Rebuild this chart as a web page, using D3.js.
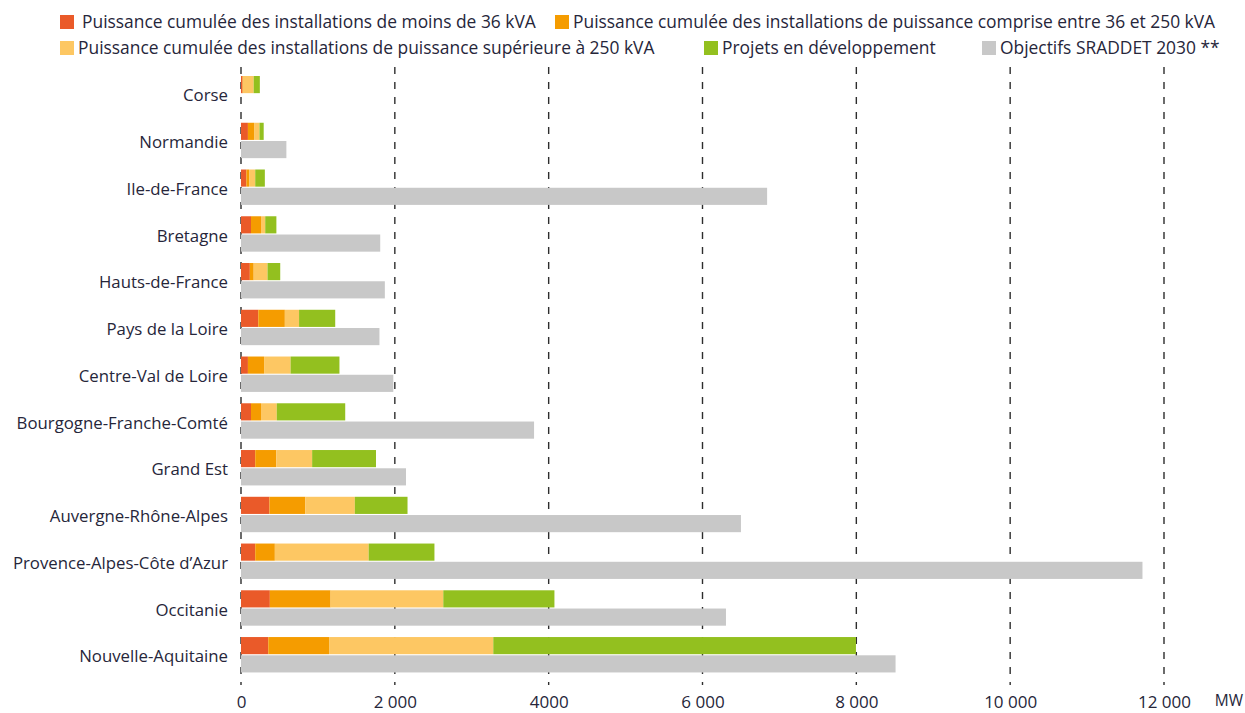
<!DOCTYPE html>
<html>
<head>
<meta charset="utf-8">
<script src="https://cdn.jsdelivr.net/npm/d3@7"></script>
<style>
  html, body { margin: 0; padding: 0; background: #fff; }
  svg { display: block; }
  text { font-family: "Open Sans", "Noto Sans", sans-serif; fill: #26263a; }
</style>
</head>
<body>
<svg id="chart" width="1245" height="713"></svg>
<script>
const categories = ["Corse", "Normandie", "Ile-de-France", "Bretagne", "Hauts-de-France",
  "Pays de la Loire", "Centre-Val de Loire", "Bourgogne-Franche-Comté", "Grand Est",
  "Auvergne-Rhône-Alpes", "Provence-Alpes-Côte d’Azur", "Occitanie", "Nouvelle-Aquitaine"];

const moins36   = [20, 90, 70, 130, 115, 225, 90, 130, 185, 370, 185, 375, 355];
const entre36   = [5, 80, 35, 130, 50, 345, 210, 130, 275, 465, 255, 790, 790];
const sup250    = [140, 70, 80, 55, 180, 185, 345, 205, 465, 645, 1220, 1465, 2135];
const projets   = [80, 55, 125, 145, 165, 470, 635, 890, 830, 685, 855, 1445, 4715];
const objectifs = [0, 590, 6840, 1810, 1870, 1800, 1980, 3810, 2145, 6500, 11720, 6305, 8510];

const seriesNames = [
  "Puissance cumulée des installations de moins de 36 kVA",
  "Puissance cumulée des installations de puissance comprise entre 36 et 250 kVA",
  "Puissance cumulée des installations de puissance supérieure à 250 kVA",
  "Projets en développement",
  "Objectifs SRADDET 2030 **"
];
const seriesColors = ["#EA5A29", "#F59C00", "#FDC763", "#93C01F", "#C8C8C8"];

const tickValues = [0, 2000, 4000, 6000, 8000, 10000, 12000];
const tickLabels = ["0", "2 000", "4000", "6 000", "8 000", "10 000", "12 000"];
const unitLabel = "MW";

const svg = d3.select("#chart");

const x = d3.scaleLinear().domain([0, 12000]).range([241, 1164]);
const y = d3.scaleBand().domain(categories).range([71.6, 679.4]).paddingInner(0).paddingOuter(0);
const sub = d3.scaleBand().domain(["stack", "target"]).range([4.4, 39.8]).paddingInner(0.06);

// gridlines
svg.append("g").selectAll("line").data(tickValues).join("line")
  .attr("x1", d => x(d)).attr("x2", d => x(d))
  .attr("y1", 67).attr("y2", 685)
  .attr("stroke", "#2d2d2d").attr("stroke-width", 1.4)
  .attr("stroke-dasharray", "7,8");

// stacked data
const keys = ["m36", "e36", "s250", "proj"];
const rows = categories.map((c, i) => ({ cat: c, m36: moins36[i], e36: entre36[i], s250: sup250[i], proj: projets[i], obj: objectifs[i] }));
const stack = d3.stack().keys(keys)(rows);

const gStack = svg.append("g");
stack.forEach((layer, k) => {
  gStack.append("g").attr("fill", seriesColors[k])
    .selectAll("rect").data(layer).join("rect")
    .attr("x", d => x(d[0]))
    .attr("width", d => Math.max(0, x(d[1]) - x(d[0])))
    .attr("y", d => y(d.data.cat) + sub("stack"))
    .attr("height", sub.bandwidth());
});

svg.append("g").attr("fill", seriesColors[4])
  .selectAll("rect").data(rows.filter(d => d.obj > 0)).join("rect")
  .attr("x", x(0))
  .attr("width", d => x(d.obj) - x(0))
  .attr("y", d => y(d.cat) + sub("target"))
  .attr("height", sub.bandwidth());

// category labels
svg.append("g").selectAll("text").data(categories).join("text")
  .attr("x", 228)
  .attr("y", d => y(d) + y.bandwidth() / 2 + 0.5)
  .attr("dy", "0.35em")
  .attr("text-anchor", "end")
  .attr("font-size", 16.8)
  .text(d => d);

// x axis labels
const xAxis = d3.axisBottom(x).tickValues(tickValues).tickSize(0)
  .tickFormat((d, i) => tickLabels[i]);
const gx = svg.append("g").attr("transform", "translate(0,693)").call(xAxis);
gx.select(".domain").remove();
gx.selectAll("text").attr("font-size", 17).attr("fill", "#26263a")
  .style("font-family", "'Open Sans', sans-serif");

svg.append("text").attr("x", 1229).attr("y", 701).attr("dy", "0.35em")
  .attr("text-anchor", "middle").attr("font-size", 15.5).text(unitLabel);

// legend
const legendPos = [
  { sx: 60, sy: 15, tx: 82, ty: 22 },
  { sx: 555, sy: 15, tx: 573, ty: 22 },
  { sx: 60, sy: 41, tx: 78, ty: 48 },
  { sx: 704, sy: 41, tx: 722, ty: 48 },
  { sx: 982, sy: 41, tx: 1000, ty: 48 }
];
const lg = svg.append("g");
seriesNames.forEach((name, i) => {
  const p = legendPos[i];
  lg.append("rect").attr("x", p.sx).attr("y", p.sy).attr("width", 14).attr("height", 14)
    .attr("fill", seriesColors[i]);
  lg.append("text").attr("x", p.tx).attr("y", p.ty).attr("dy", "0.35em")
    .attr("font-size", 17.4).text(name);
});
</script>
</body>
</html>
